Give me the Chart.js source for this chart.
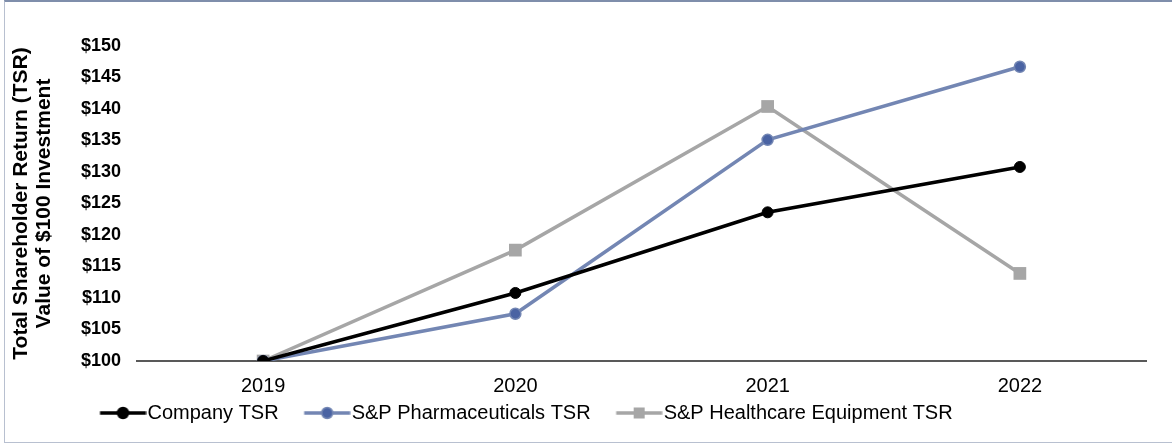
<!DOCTYPE html>
<html>
<head>
<meta charset="utf-8">
<script src="https://cdn.jsdelivr.net/npm/chart.js@4"></script>
<style>
  html, body { margin: 0; padding: 0; background: #fff; overflow: hidden; }
  #wrap { position: relative; width: 1172px; height: 445px; }
  #frame { position: absolute; left: 4px; top: 0; width: 1180px; height: 440px;
           border-top: 2px solid #7f8eab; border-left: 1px solid #b8c0d0; border-bottom: 1px solid #b8c0d0;
           pointer-events: none; }
</style>
</head>
<body>
<div id="wrap">
  <canvas id="c" width="1172" height="445"></canvas>
  <div id="frame"></div>
</div>
<script>
const years = ['2019', '2020', '2021', '2022'];
const companyTSR = [100, 110.8, 123.6, 130.8];
const pharmaTSR = [100, 107.5, 135.1, 146.7];
const healthcareTSR = [100, 117.6, 140.4, 113.9];
const seriesNames = ['Company TSR', 'S&P Pharmaceuticals TSR', 'S&P Healthcare Equipment TSR'];
const yTicks = [100, 105, 110, 115, 120, 125, 130, 135, 140, 145, 150];
const yTitle = ['Total Shareholder Return (TSR)', 'Value of $100 Investment'];

const colors = {
  company: { line: '#000000', fill: '#000000', border: '#000000' },
  pharma: { line: '#7386b3', fill: '#4a63a3', border: '#7386b3' },
  health: { line: '#a6a6a6', fill: '#a6a6a6', border: '#a6a6a6' }
};

function legendImage(c, style) {
  const cv = document.createElement('canvas');
  cv.width = 68; cv.height = 20;
  const g = cv.getContext('2d');
  g.strokeStyle = c.line; g.lineWidth = 3.5;
  g.beginPath(); g.moveTo(21.5, 10); g.lineTo(67.5, 10); g.stroke();
  g.fillStyle = c.fill;
  if (style === 'rect') {
    g.fillRect(44.5 - 5.5, 10 - 5.5, 11, 11);
  } else {
    g.beginPath(); g.arc(44.5, 10, 5.5, 0, Math.PI * 2); g.fill();
    g.strokeStyle = c.border; g.lineWidth = 1.5; g.stroke();
  }
  return cv;
}
const legendImgs = [legendImage(colors.company, 'circle'), legendImage(colors.pharma, 'circle'), legendImage(colors.health, 'rect')];

const legendPlace = {
  id: 'legendPlace',
  afterLayout(chart) {
    const lg = chart.legend;
    if (!lg) return;
    const h = lg.height;
    lg.left = 74.5;
    lg.top = 390;
    lg.bottom = lg.top + h;
  }
};

const FONT = '"Liberation Sans", Arial, sans-serif';

new Chart(document.getElementById('c'), {
  type: 'line',
  data: {
    labels: years,
    datasets: [
      { label: seriesNames[0], data: companyTSR, borderColor: colors.company.line, backgroundColor: colors.company.fill,
        pointBackgroundColor: colors.company.fill, pointBorderColor: colors.company.border, borderWidth: 3.5,
        pointRadius: 5.5, pointBorderWidth: 1, pointStyle: 'circle', tension: 0 },
      { label: seriesNames[1], data: pharmaTSR, borderColor: colors.pharma.line, backgroundColor: colors.pharma.fill,
        pointBackgroundColor: colors.pharma.fill, pointBorderColor: colors.pharma.border, borderWidth: 3.5,
        pointRadius: 5.5, pointBorderWidth: 1.5, pointStyle: 'circle', tension: 0 },
      { label: seriesNames[2], data: healthcareTSR, borderColor: colors.health.line, backgroundColor: colors.health.fill,
        pointBackgroundColor: colors.health.fill, pointBorderColor: colors.health.border, borderWidth: 3.5,
        pointRadius: 9, pointBorderWidth: 0, pointStyle: 'rect', tension: 0 }
    ]
  },
  options: {
    responsive: false,
    animation: false,
    devicePixelRatio: 1,
    layout: { padding: { left: 0, right: 26, top: 46, bottom: 8 } },
    plugins: {
      tooltip: { enabled: false },
      title: { display: false },
      legend: {
        position: 'bottom',
        align: 'start',
        labels: {
          usePointStyle: true,
          pointStyleWidth: 50,
          boxHeight: 20,
          padding: 13,
          color: '#000000',
          font: { family: FONT, size: 20 },
          generateLabels(chart) {
            return chart.data.datasets.map((ds, i) => ({
              text: ds.label,
              pointStyle: legendImgs[i],
              fillStyle: ds.borderColor,
              strokeStyle: ds.borderColor,
              lineWidth: 0,
              hidden: false,
              datasetIndex: i,
              fontColor: '#000000'
            }));
          }
        }
      }
    },
    scales: {
      x: {
        type: 'category',
        offset: true,
        grid: { display: false, drawTicks: false },
        border: { display: true, color: '#595959', width: 2 },
        ticks: { color: '#000000', padding: 13, font: { family: FONT, size: 20 } },
        afterFit(s) { s.height = 33; }
      },
      y: {
        min: 100,
        max: 150,
        afterBuildTicks(s) { s.ticks = yTicks.map(v => ({ value: v })); },
        grid: { display: false, drawTicks: false },
        border: { display: false },
        ticks: {
          color: '#000000', padding: 16,
          font: { family: FONT, size: 18, weight: 'bold' },
          callback: v => '$' + v
        },
        title: {
          display: true,
          text: yTitle,
          color: '#000000',
          padding: { top: 10, bottom: 0 },
          font: { family: FONT, size: 21, weight: 'bold', lineHeight: 1.1 }
        },
        afterFit(s) { s.width = 137; }
      }
    }
  },
  plugins: [legendPlace]
});
</script>
</body>
</html>
